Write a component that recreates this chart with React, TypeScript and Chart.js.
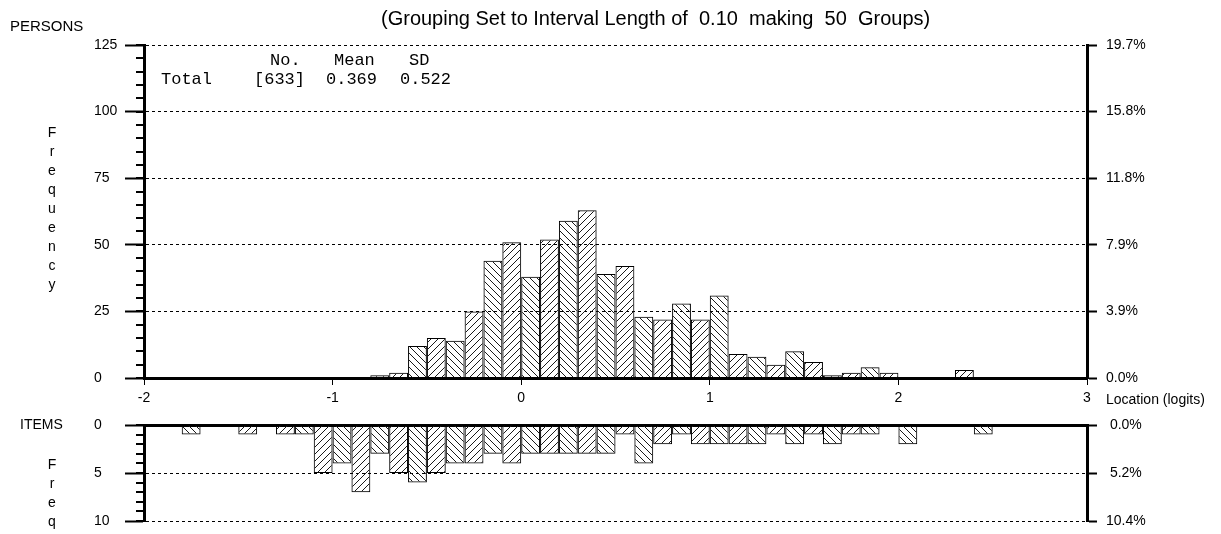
import React, { useEffect, useRef } from "react";
import { Chart, registerables } from "chart.js";

Chart.register(...registerables);

// ---- data (50 groups of width 0.10 from -2 to 3) ----
const binCenters = [
  -1.95, -1.85, -1.75, -1.65, -1.55, -1.45, -1.35, -1.25, -1.15, -1.05,
  -0.95, -0.85, -0.75, -0.65, -0.55, -0.45, -0.35, -0.25, -0.15, -0.05,
  0.05, 0.15, 0.25, 0.35, 0.45, 0.55, 0.65, 0.75, 0.85, 0.95,
  1.05, 1.15, 1.25, 1.35, 1.45, 1.55, 1.65, 1.75, 1.85, 1.95,
  2.05, 2.15, 2.25, 2.35, 2.45, 2.55, 2.65, 2.75, 2.85, 2.95,
];

const personCounts = [
  0, 0, 0, 0, 0, 0, 0, 0, 0, 0,
  0, 0, 1, 2, 12, 15, 14, 25, 44, 51,
  38, 52, 59, 63, 39, 42, 23, 22, 28, 22,
  31, 9, 8, 5, 10, 6, 1, 2, 4, 2,
  0, 0, 0, 3, 0, 0, 0, 0, 0, 0,
];

const itemCounts = [
  0, 0, 1, 0, 0, 1, 0, 1, 1, 5,
  4, 7, 3, 5, 6, 5, 4, 4, 3, 4,
  3, 3, 3, 3, 3, 1, 4, 2, 1, 2,
  2, 2, 2, 1, 2, 1, 2, 1, 1, 0,
  2, 0, 0, 0, 1, 0, 0, 0, 0, 0,
];

const personTotal = 633;
const itemTotal = 96;
const xMin = -2;
const xMax = 3;
const personMax = 125;
const personStep = 25;
const personMinorStep = 5;
const itemMax = 10;
const itemStep = 5;
const itemMinorStep = 1;

const titleText = "(Grouping Set to Interval Length of  0.10  making  50  Groups)";
const statsHeader = ["No.", "Mean", "SD"];
const statsRow = ["Total", "[633]", "0.369", "0.522"];
const personLabel = "PERSONS";
const itemLabel = "ITEMS";
const freqLetters = ["F", "r", "e", "q", "u", "e", "n", "c", "y"];
const freqShortLetters = ["F", "r", "e", "q"];
const xAxisLabel = "Location (logits)";

const SANS = 'Arial, "Liberation Sans", sans-serif';
const MONO = '"Courier New", "Liberation Mono", monospace';

function hatch(kind: "fwd" | "back"): any {
  const s = 7;
  const c = document.createElement("canvas");
  c.width = s;
  c.height = s;
  const g = c.getContext("2d");
  if (!g) return "transparent";
  g.strokeStyle = "#1a1a1a";
  g.lineWidth = 1;
  g.beginPath();
  if (kind === "fwd") {
    g.moveTo(-1, s + 1);
    g.lineTo(s + 1, -1);
    g.moveTo(-1, 1);
    g.lineTo(1, -1);
    g.moveTo(s - 1, s + 1);
    g.lineTo(s + 1, s - 1);
  } else {
    g.moveTo(-1, -1);
    g.lineTo(s + 1, s + 1);
    g.moveTo(-1, s - 1);
    g.lineTo(1, s + 1);
    g.moveTo(s - 1, -1);
    g.lineTo(s + 1, 1);
  }
  g.stroke();
  return g.createPattern(c, "repeat") || "transparent";
}

function minorTickPlugin(scaleId: string, step: number, len: number) {
  return {
    id: "minorTicks",
    afterDraw(chart: any) {
      const s = chart.scales[scaleId];
      if (!s) return;
      const ctx = chart.ctx;
      ctx.save();
      ctx.strokeStyle = "#000";
      ctx.lineWidth = 2;
      for (let v = s.min; v <= s.max + 1e-9; v += step) {
        const y = Math.round(s.getPixelForValue(v));
        ctx.beginPath();
        ctx.moveTo(s.right - len, y);
        ctx.lineTo(s.right, y);
        ctx.stroke();
      }
      ctx.restore();
    },
  };
}

const tickFont = { family: SANS, size: 14 };

function makeDataset(values: number[], fwd: any, back: any) {
  return {
    data: binCenters.map((x, i) => ({ x, y: values[i] })),
    backgroundColor: (c: any) => (c.dataIndex % 2 === 0 ? back : fwd),
    borderColor: "#000",
    borderWidth: 1,
    barPercentage: 1,
    categoryPercentage: 1,
    inflateAmount: 0,
    xAxisID: "x",
    yAxisID: "y",
  };
}

function Txt(props: {
  x: number;
  y: number;
  size: number;
  family?: string;
  center?: boolean;
  style?: any;
  children: any;
}) {
  return (
    <div
      style={{
        position: "absolute",
        left: props.x,
        top: props.y,
        transform: `translate(${props.center ? "-50%" : "0"}, -50%)`,
        fontSize: props.size,
        lineHeight: 1,
        whiteSpace: "pre",
        fontFamily: props.family || SANS,
        color: "#000",
        ...(props.style || {}),
      }}
    >
      {props.children}
    </div>
  );
}

export default function App() {
  const topRef = useRef<HTMLCanvasElement>(null);
  const botRef = useRef<HTMLCanvasElement>(null);

  useEffect(() => {
    if (!topRef.current || !botRef.current) return;
    const fwd = hatch("fwd");
    const back = hatch("back");

    const common: any = {
      responsive: false,
      maintainAspectRatio: false,
      animation: false,
      events: [],
      plugins: { legend: { display: false }, tooltip: { enabled: false } },
    };

    const top = new Chart(topRef.current, {
      type: "bar",
      data: { datasets: [makeDataset(personCounts, fwd, back) as any] },
      options: {
        ...common,
        layout: { padding: { left: 94, top: 45, right: 0, bottom: 0 } },
        scales: {
          x: {
            type: "linear",
            min: xMin,
            max: xMax,
            offset: false,
            position: "bottom",
            ticks: { stepSize: 1, font: tickFont, color: "#000", padding: 5, maxRotation: 0, autoSkip: false },
            grid: { drawOnChartArea: false, drawTicks: true, tickLength: 7, tickColor: "#000", tickWidth: 1, offset: false },
            border: { display: true, width: 3, color: "#000" },
            afterFit: (s: any) => {
              s.height = 32;
            },
          },
          y: {
            type: "linear",
            position: "left",
            min: 0,
            max: personMax,
            ticks: { stepSize: personStep, font: tickFont, color: "#000", crossAlign: "far" },
            grid: { color: "#000", lineWidth: 1, drawTicks: true, tickLength: 19, tickColor: "#000", tickWidth: 2 },
            border: { display: true, width: 3, color: "#000", dash: [3, 3] },
            afterFit: (s: any) => {
              s.width = 50;
            },
          },
          y2: {
            type: "linear",
            position: "right",
            min: 0,
            max: personMax,
            ticks: {
              stepSize: personStep,
              font: tickFont,
              color: "#000",
              padding: 9,
              callback: (v: any) => ((Number(v) / personTotal) * 100).toFixed(1) + "%",
            },
            grid: { drawOnChartArea: false, drawTicks: true, tickLength: 10, tickColor: "#000", tickWidth: 2 },
            border: { display: true, width: 3, color: "#000" },
            afterFit: (s: any) => {
              s.width = 134;
            },
          },
        },
      } as any,
      plugins: [minorTickPlugin("y", personMinorStep, 8)],
    });

    const bot = new Chart(botRef.current, {
      type: "bar",
      data: { datasets: [makeDataset(itemCounts, fwd, back) as any] },
      options: {
        ...common,
        layout: { padding: { left: 94, top: 20, right: 0, bottom: 34 } },
        scales: {
          x: {
            type: "linear",
            min: xMin,
            max: xMax,
            offset: false,
            position: "top",
            ticks: { display: false, stepSize: 1 },
            grid: { drawOnChartArea: false, drawTicks: false, offset: false },
            border: { display: true, width: 3, color: "#000" },
            afterFit: (s: any) => {
              s.height = 0;
            },
          },
          y: {
            type: "linear",
            position: "left",
            reverse: true,
            min: 0,
            max: itemMax,
            ticks: { stepSize: itemStep, font: tickFont, color: "#000", crossAlign: "far" },
            grid: { color: "#000", lineWidth: 1, drawTicks: true, tickLength: 19, tickColor: "#000", tickWidth: 2 },
            border: { display: true, width: 3, color: "#000", dash: [3, 3] },
            afterFit: (s: any) => {
              s.width = 50;
            },
          },
          y2: {
            type: "linear",
            position: "right",
            reverse: true,
            min: 0,
            max: itemMax,
            ticks: {
              stepSize: itemStep,
              font: tickFont,
              color: "#000",
              padding: 9,
              crossAlign: "center",
              callback: (v: any) => ((Number(v) / itemTotal) * 100).toFixed(1) + "%",
            },
            grid: { drawOnChartArea: false, drawTicks: true, tickLength: 10, tickColor: "#000", tickWidth: 2 },
            border: { display: true, width: 3, color: "#000" },
            afterFit: (s: any) => {
              s.width = 134;
            },
          },
        },
      } as any,
      plugins: [minorTickPlugin("y", itemMinorStep, 8)],
    });

    return () => {
      top.destroy();
      bot.destroy();
    };
  }, []);

  const headerX = [270, 334, 409];
  const rowX = [161, 254, 326, 400];

  return (
    <div
      style={{
        position: "absolute",
        left: 0,
        top: 0,
        width: 1221,
        height: 534,
        overflow: "hidden",
        background: "#fff",
      }}
    >
      <canvas ref={topRef} width={1221} height={410} style={{ position: "absolute", left: 0, top: 0 }} />
      <canvas ref={botRef} width={1221} height={150} style={{ position: "absolute", left: 0, top: 405 }} />

      <Txt x={10} y={25} size={15}>{personLabel}</Txt>
      <Txt x={381} y={18} size={20}>{titleText}</Txt>

      {statsHeader.map((t, i) => (
        <Txt key={"h" + i} x={headerX[i]} y={60} size={17} family={MONO}>{t}</Txt>
      ))}
      {statsRow.map((t, i) => (
        <Txt key={"r" + i} x={rowX[i]} y={79} size={17} family={MONO}>{t}</Txt>
      ))}

      {freqLetters.map((t, i) => (
        <Txt key={"f" + i} x={52} y={132 + i * 19} size={14} center>{t}</Txt>
      ))}

      <Txt x={20} y={424} size={14}>{itemLabel}</Txt>
      {freqShortLetters.map((t, i) => (
        <Txt key={"g" + i} x={52} y={464 + i * 19} size={14} center>{t}</Txt>
      ))}

      <Txt x={1106} y={399} size={14}>{xAxisLabel}</Txt>
    </div>
  );
}
